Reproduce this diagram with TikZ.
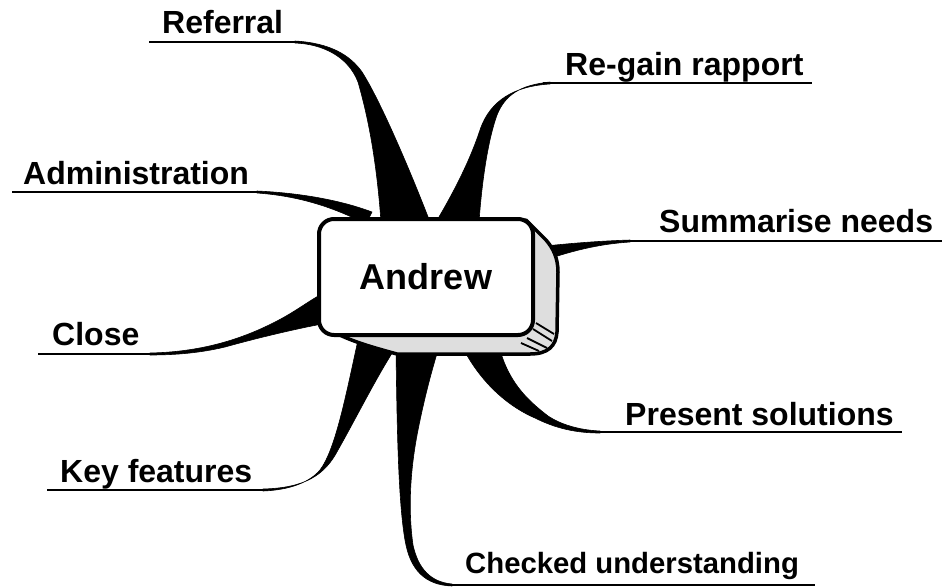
\documentclass[tikz,border=0pt]{standalone}
\usepackage{fontspec}
\setmainfont{Liberation Sans}
\begin{document}
\begin{tikzpicture}[x=1pt,y=-1pt,
  label/.style={anchor=base west,inner sep=0pt,font=\fontsize{32}{36}\selectfont\bfseries},
  rule/.style={line width=2.6pt},
  limb/.style={fill=black,draw=black,line width=0.6pt,line join=round},
  hub/.style={draw=black,fill=white,line width=4pt,rounded corners=15pt,
    minimum width=214pt,minimum height=116pt,inner sep=0pt,
    font=\fontsize{36}{42}\selectfont\bfseries}]
\useasboundingbox (0,0) rectangle (942,587);

% labels
\node[label] (referral) at (162,33) {Referral};
\node[label] (admin)    at (23,184) {Administration};
\node[label] (close)    at (52,345) {Close};
\node[label] (keyf)     at (60,482) {Key features};
\node[label] (regain)   at (565,75) {Re-gain rapport};
\node[label] (summ)     at (659,232) {Summarise needs};
\node[label] (present)  at (625,425) {Present solutions};
\node[label,font=\fontsize{29.3}{34}\selectfont\bfseries] (checked) at (465,573) {Checked understanding};

% underlines
\draw[rule] (149,42) -- (300,42);
\draw[rule] (12,192) -- (260,192);
\draw[rule] (38,354) -- (152,354);
\draw[rule] (47,490) -- (265,490);
\draw[rule] (543,83) -- (812,83);
\draw[rule] (625,241) -- (942,241);
\draw[rule] (597,432) -- (902,432);
\draw[rule] (447,585) -- (815,585);

% tapered branches
\path[limb] (295,41) .. controls (330,43) and (350,55) .. (362,72)
  .. controls (380,100) and (410,170) .. (430,222) -- (381,222)
  .. controls (378,180) and (372,130) .. (358,82)
  .. controls (348,56) and (322,44) .. (295,43) -- cycle;
\path[limb] (257,191) .. controls (300,193) and (340,200) .. (372,212)
  -- (366,224) .. controls (335,208) and (300,196) .. (257,193) -- cycle;
\path[limb] (150,353) .. controls (200,352) and (240,340) .. (275,322)
  .. controls (295,312) and (310,300) .. (322,294) -- (322,324)
  .. controls (290,330) and (250,340) .. (225,347)
  .. controls (200,353) and (175,355) .. (150,355) -- cycle;
\path[limb] (263,491) .. controls (290,490) and (310,482) .. (320,470)
  .. controls (335,450) and (345,400) .. (358,340) -- (394,350)
  .. controls (375,380) and (355,420) .. (338,450)
  .. controls (325,475) and (305,488) .. (263,489) -- cycle;
\path[limb] (550,82) .. controls (520,85) and (505,95) .. (497,115)
  .. controls (488,140) and (482,180) .. (479,222) -- (436,222)
  .. controls (455,190) and (470,160) .. (480,130)
  .. controls (490,100) and (515,86) .. (550,84) -- cycle;
\path[limb] (630,240) .. controls (600,241) and (575,243) .. (545,246)
  -- (545,260) .. controls (575,250) and (600,244) .. (630,242) -- cycle;
\path[limb] (464,350) .. controls (480,380) and (505,405) .. (535,418)
  .. controls (555,428) and (575,433) .. (600,433) -- (600,431)
  .. controls (578,430) and (560,424) .. (548,416)
  .. controls (530,402) and (510,385) .. (500,350) -- cycle;
\path[limb] (396,350) .. controls (397,420) and (398,500) .. (405,540)
  .. controls (410,570) and (425,585) .. (452,586) -- (452,584)
  .. controls (430,582) and (418,568) .. (413,545)
  .. controls (408,510) and (410,470) .. (418,430)
  .. controls (425,395) and (432,370) .. (438,350) -- cycle;

% block depth: side and underside
\path[draw=black,fill=black!13,line width=3.5pt,line join=round]
  (320,322) .. controls (335,336) and (360,344) .. (397,354)
  -- (530,354) .. controls (548,354) and (556,346) .. (557,332)
  -- (558,272) .. controls (558,258) and (553,248) .. (546,240)
  -- (526,220) -- cycle;
\draw[line width=1.8pt]
  (536,323) -- (554,334)
  (533,329) -- (552,341)
  (527,338) -- (547,348)
  (521,343) -- (539,351);

% front face
\node[hub] (andrew) at (426,277) {Andrew};
\end{tikzpicture}
\end{document}
